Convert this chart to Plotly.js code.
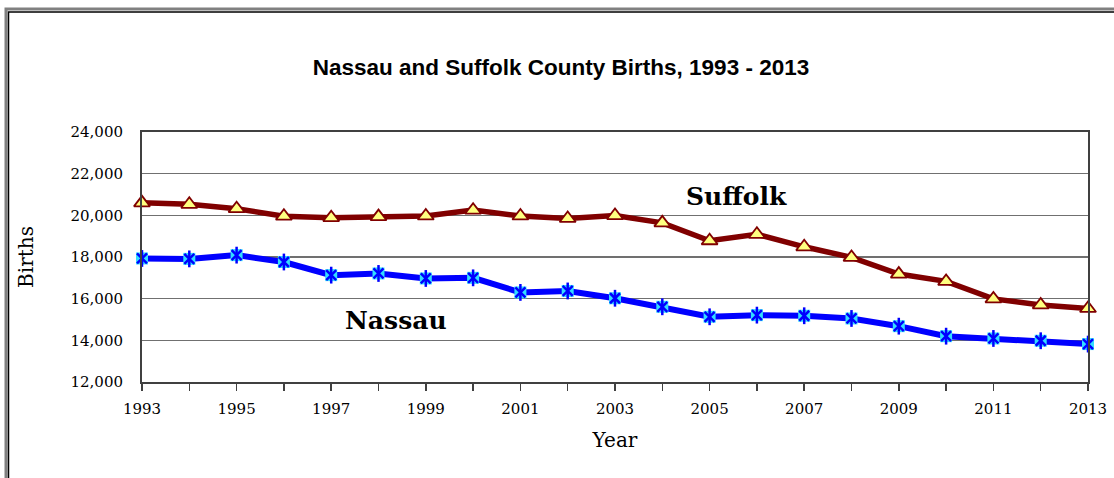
<!DOCTYPE html>
<html>
<head>
<meta charset="utf-8">
<script src="https://cdn.plot.ly/plotly-3.0.1.min.js"></script>
<style>
  html, body { margin: 0; padding: 0; background: #ffffff; }
  #chart { width: 1114px; height: 478px; }
</style>
</head>
<body>
<div id="chart"></div>
<script>
const years = [1993, 1994, 1995, 1996, 1997, 1998, 1999, 2000, 2001, 2002, 2003,
               2004, 2005, 2006, 2007, 2008, 2009, 2010, 2011, 2012, 2013];
const suffolk = [20600, 20530, 20320, 19960, 19890, 19940, 19970, 20250, 19970, 19850, 19990,
                 19640, 18780, 19090, 18490, 17980, 17180, 16830, 15990, 15700, 15530];
const nassau = [17930, 17910, 18090, 17760, 17130, 17210, 16970, 17000, 16300, 16370, 16020,
                15610, 15130, 15210, 15180, 15050, 14680, 14200, 14090, 13980, 13820];
const yTicks = [12000, 14000, 16000, 18000, 20000, 22000, 24000];
const yTickLabels = ['12,000', '14,000', '16,000', '18,000', '20,000', '22,000', '24,000'];
const xTicks = [1993, 1995, 1997, 1999, 2001, 2003, 2005, 2007, 2009, 2011, 2013];
const xTickLabels = ['1993', '1995', '1997', '1999', '2001', '2003', '2005', '2007', '2009', '2011', '2013'];

const serif = '"DejaVu Serif", "Liberation Serif", serif';

const traces = [
  {
    x: years, y: suffolk, type: 'scatter', mode: 'lines+markers', name: 'Suffolk', cliponaxis: false,
    line: { color: '#800000', width: 5.5 },
    marker: { symbol: 'triangle-up', size: 14, color: '#FFFF80', line: { color: '#800000', width: 1.8 } }
  },
  {
    x: years, y: nassau, type: 'scatter', mode: 'lines+markers', name: 'Nassau', cliponaxis: false,
    line: { color: '#0000FF', width: 6 },
    marker: { symbol: 'square', size: 12, color: '#33DDFF', line: { width: 0 } }
  },
  {
    x: years, y: nassau, type: 'scatter', mode: 'markers', showlegend: false, hoverinfo: 'skip', cliponaxis: false,
    marker: { symbol: 'x-thin-open', size: 10, color: '#0000FF', line: { color: '#0000FF', width: 2.5 } }
  },
  {
    x: years, y: nassau, type: 'scatter', mode: 'markers', showlegend: false, hoverinfo: 'skip', cliponaxis: false,
    marker: { symbol: 'line-ns-open', size: 12, color: '#0000FF', line: { color: '#0000FF', width: 2.5 } }
  }
];

const layout = {
  width: 1114, height: 478,
  margin: { l: 142, r: 26, t: 132, b: 96 },
  paper_bgcolor: '#ffffff', plot_bgcolor: '#ffffff',
  showlegend: false,
  title: {
    text: '<b>Nassau and Suffolk County Births, 1993 - 2013</b>',
    font: { family: '"Liberation Sans", Arial, sans-serif', size: 22.5, color: '#000000' },
    x: 561 / 1114, xanchor: 'center', y: 1 - 67 / 478, yanchor: 'middle'
  },
  xaxis: {
    range: [1993, 2013],
    tickvals: xTicks, ticktext: xTickLabels,
    ticks: 'outside', ticklen: 7, tickcolor: '#404040', tickwidth: 1.5,
    ticklabelstandoff: 5,
    minor: { dtick: 1, ticks: 'outside', ticklen: 7, tickcolor: '#404040', tickwidth: 1.5 },
    showgrid: false, zeroline: false,
    showline: true, linecolor: '#404040', linewidth: 2, mirror: true,
    tickfont: { family: serif, size: 15, color: '#000000' },
    title: { text: 'Year', font: { family: serif, size: 20, color: '#000000' }, standoff: 16 }
  },
  yaxis: {
    range: [12000, 24000],
    tickvals: yTicks, ticktext: yTickLabels,
    ticks: '', ticklabelstandoff: 14,
    showgrid: true, gridcolor: '#707070', gridwidth: 1.3,
    zeroline: false,
    showline: true, linecolor: '#404040', linewidth: 2, mirror: true,
    tickfont: { family: serif, size: 15, color: '#000000' },
    title: { text: 'Births', font: { family: serif, size: 20, color: '#000000' }, standoff: 32 }
  },
  annotations: [
    { x: 2005.56, y: 20920, xref: 'x', yref: 'y', text: '<b>Suffolk</b>', showarrow: false,
      font: { family: serif, size: 25, color: '#000000' } },
    { x: 1998.37, y: 14970, xref: 'x', yref: 'y', text: '<b>Nassau</b>', showarrow: false,
      font: { family: serif, size: 25, color: '#000000' } }
  ],
  shapes: [
    { type: 'rect', xref: 'paper', yref: 'paper', xsizemode: 'pixel', ysizemode: 'pixel',
      xanchor: 0, yanchor: 1, x0: -136, x1: 1200, y0: 123, y1: -600,
      line: { color: '#808080', width: 3 }, fillcolor: 'rgba(0,0,0,0)', layer: 'above' },
    { type: 'rect', xref: 'paper', yref: 'paper', xsizemode: 'pixel', ysizemode: 'pixel',
      xanchor: 0, yanchor: 1, x0: -133.5, x1: 1200, y0: 120, y1: -600,
      line: { color: '#000000', width: 1.5 }, fillcolor: 'rgba(0,0,0,0)', layer: 'above' }
  ]
};

Plotly.newPlot('chart', traces, layout, { displayModeBar: false, staticPlot: true });
</script>
</body>
</html>
